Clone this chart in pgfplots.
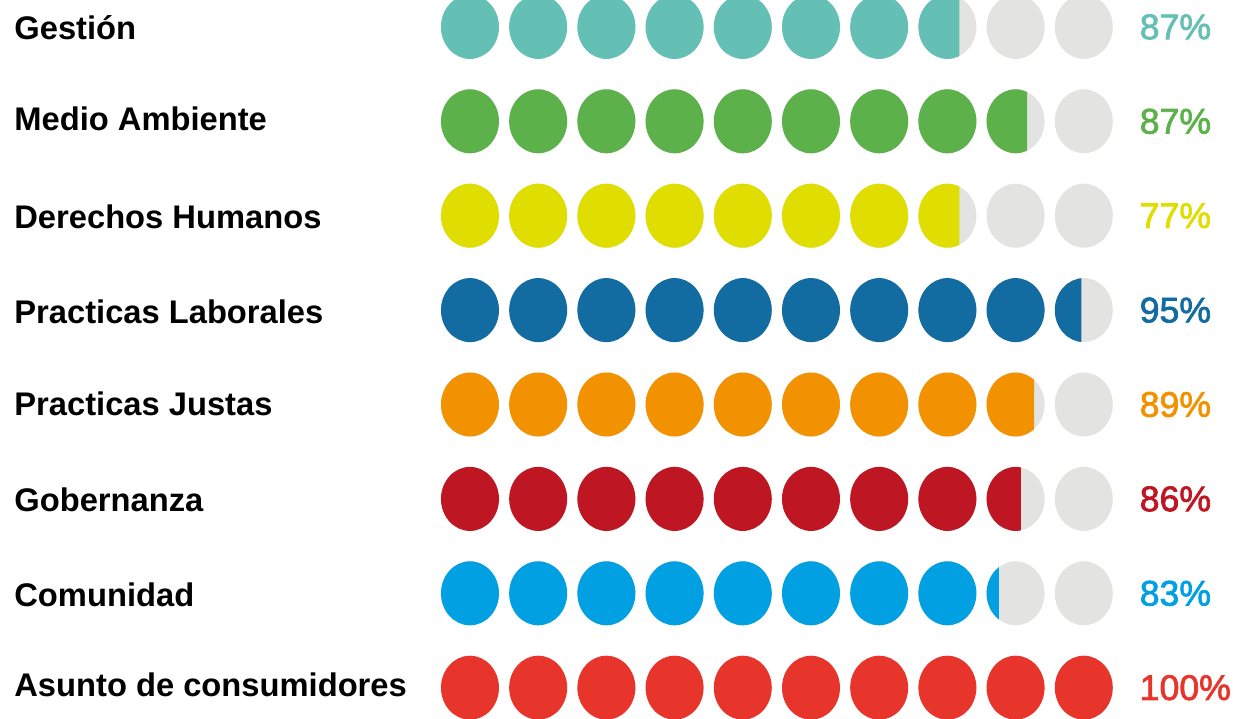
\documentclass[border=0pt]{standalone}
\usepackage{pgfplots}
\pgfplotsset{compat=1.18}
\usepackage{fontspec}
\setmainfont{Liberation Sans}
\newfontfamily\pctfont[FakeBold=2]{Liberation Sans}
\definecolor{cA}{HTML}{64C0B5}
\definecolor{cB}{HTML}{5CB14B}
\definecolor{cC}{HTML}{E0DE00}
\definecolor{cD}{HTML}{136CA1}
\definecolor{cE}{HTML}{F39200}
\definecolor{cF}{HTML}{BE1622}
\definecolor{cG}{HTML}{00A0E3}
\definecolor{cH}{HTML}{E8352B}
\definecolor{cGrey}{HTML}{E3E3E2}
\pgfdeclareplotmark{ell}{\pgfpathellipse{\pgfpointorigin}{\pgfqpoint{14.5pt}{0pt}}{\pgfqpoint{0pt}{16pt}}\pgfusepathqfill}
\pgfplotsset{
  partial/.style={only marks, mark=ell, color=#1, scatter, point meta=explicit,
    point meta min=0, point meta max=1,
    scatter/@pre marker code/.code={%
      \pgfmathsetlengthmacro\edge{-14.5pt+0.029pt*\pgfplotspointmetatransformed}%
      \pgfscope
      \pgfpathrectanglecorners{\pgfqpoint{-16pt}{-18pt}}{\pgfqpoint{\edge}{18pt}}%
      \pgfusepath{clip}},
    scatter/@post marker code/.code={\endpgfscope}},
  full/.style={only marks, mark=ell, color=#1}
}
% #1 row, #2 vertical shift in rows, #3 text
\newcommand{\lab}[3]{\node[anchor=base west, inner sep=0pt, font=\fontsize{16.35pt}{18pt}\selectfont\bfseries] at (axis cs:-5.686,#1+0.138+#2) {#3};}
\newcommand{\pct}[3]{\node[anchor=base west, inner sep=0pt, text=#2, font=\fontsize{17.8pt}{19pt}\pctfont] at (axis cs:10.815,#1+0.13) {#3};}
\begin{document}
\begin{tikzpicture}
\begin{axis}[width=618pt, height=359pt, scale only axis, hide axis, clip=false,
  xmin=-5.891, xmax=12.232, ymin=0.715, ymax=8.321, y dir=reverse]
\coordinate (ll) at (axis cs:-5.891,8.321);
\coordinate (ur) at (axis cs:12.232,0.715);
% grey background circles
\addplot[full=cGrey] coordinates {
(1,1)(2,1)(3,1)(4,1)(5,1)(6,1)(7,1)(8,1)(9,1)(10,1)
(1,2)(2,2)(3,2)(4,2)(5,2)(6,2)(7,2)(8,2)(9,2)(10,2)
(1,3)(2,3)(3,3)(4,3)(5,3)(6,3)(7,3)(8,3)(9,3)(10,3)
(1,4)(2,4)(3,4)(4,4)(5,4)(6,4)(7,4)(8,4)(9,4)(10,4)
(1,5)(2,5)(3,5)(4,5)(5,5)(6,5)(7,5)(8,5)(9,5)(10,5)
(1,6)(2,6)(3,6)(4,6)(5,6)(6,6)(7,6)(8,6)(9,6)(10,6)
(1,7)(2,7)(3,7)(4,7)(5,7)(6,7)(7,7)(8,7)(9,7)(10,7)
};
% Gestion
\addplot[full=cA] coordinates {(1,1)(2,1)(3,1)(4,1)(5,1)(6,1)(7,1)};
\addplot[partial=cA] table[meta=f] {x y f
8 1 0.705
};
% Medio Ambiente
\addplot[full=cB] coordinates {(1,2)(2,2)(3,2)(4,2)(5,2)(6,2)(7,2)(8,2)};
\addplot[partial=cB] table[meta=f] {x y f
9 2 0.70
};
% Derechos Humanos
\addplot[full=cC] coordinates {(1,3)(2,3)(3,3)(4,3)(5,3)(6,3)(7,3)};
\addplot[partial=cC] table[meta=f] {x y f
8 3 0.705
};
% Practicas Laborales
\addplot[full=cD] coordinates {(1,4)(2,4)(3,4)(4,4)(5,4)(6,4)(7,4)(8,4)(9,4)};
\addplot[partial=cD] table[meta=f] {x y f
10 4 0.46
};
% Practicas Justas
\addplot[full=cE] coordinates {(1,5)(2,5)(3,5)(4,5)(5,5)(6,5)(7,5)(8,5)};
\addplot[partial=cE] table[meta=f] {x y f
9 5 0.82
};
% Gobernanza
\addplot[full=cF] coordinates {(1,6)(2,6)(3,6)(4,6)(5,6)(6,6)(7,6)(8,6)};
\addplot[partial=cF] table[meta=f] {x y f
9 6 0.593
};
% Comunidad
\addplot[full=cG] coordinates {(1,7)(2,7)(3,7)(4,7)(5,7)(6,7)(7,7)(8,7)};
\addplot[partial=cG] table[meta=f] {x y f
9 7 0.21
};
% Asunto de consumidores
\addplot[full=cH] coordinates {(1,8)(2,8)(3,8)(4,8)(5,8)(6,8)(7,8)(8,8)(9,8)(10,8)};
\lab{1}{0}{Gestión}
\lab{2}{-0.04}{Medio Ambiente}
\lab{3}{0}{Derechos Humanos}
\lab{4}{0}{Practicas Laborales}
\lab{5}{-0.02}{Practicas Justas}
\lab{6}{0}{Gobernanza}
\lab{7}{0}{Comunidad}
\lab{8}{-0.05}{Asunto de consumidores}
\pct{1}{cA}{87\%}
\pct{2}{cB}{87\%}
\pct{3}{cC}{77\%}
\pct{4}{cD}{95\%}
\pct{5}{cE}{89\%}
\pct{6}{cF}{86\%}
\pct{7}{cG}{83\%}
\pct{8}{cH}{100\%}
\end{axis}
\pgfresetboundingbox
\useasboundingbox (ll) rectangle (ur);
\end{tikzpicture}
\end{document}
